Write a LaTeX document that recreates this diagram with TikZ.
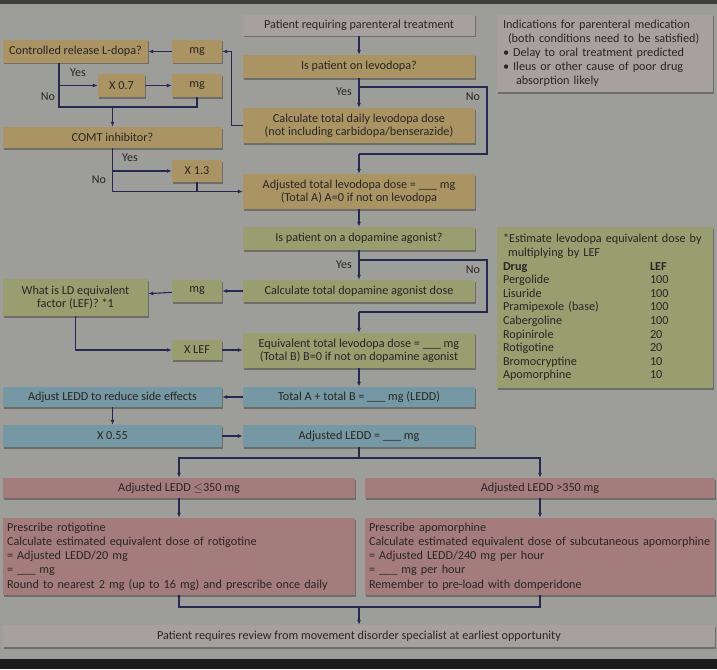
\documentclass[tikz,border=0pt]{standalone}
\usepackage{fontspec}
\setmainfont{Carlito}
\usetikzlibrary{shadows,arrows.meta}
\definecolor{bg}{RGB}{157,157,153}
\definecolor{greybox}{RGB}{166,160,158}
\definecolor{tanbox}{RGB}{170,148,100}
\definecolor{greenbox}{RGB}{152,158,112}
\definecolor{bluebox}{RGB}{118,152,164}
\definecolor{pinkbox}{RGB}{165,124,124}
\definecolor{ln}{RGB}{38,40,82}
\definecolor{txt}{RGB}{40,38,36}
\definecolor{topband}{RGB}{62,62,62}
\definecolor{botband}{RGB}{28,28,28}
\newcommand\fsa{\fontsize{12.2}{13}\selectfont}
\newcommand\fsb{\fontsize{12}{13}\selectfont}
\begin{document}
\begin{tikzpicture}[x=1pt,y=-1pt,
  box/.style={fill=#1, text=txt, inner sep=1pt, align=center, font=\fsa,
    drop shadow={shadow xshift=1.2pt,shadow yshift=-1.5pt,fill=black,opacity=0.3}},
  lbl/.style={text=txt, font=\fsb, inner sep=0pt},
  conn/.style={draw=ln, line width=1.1pt},
  arr/.style={conn, -{Latex[length=5pt,width=4pt]}}
]
\path[use as bounding box, fill=bg] (0,0) rectangle (717,669);
\fill[topband] (0,0) rectangle (717,4);
\fill[botband] (0,659) rectangle (717,669);

% main column
\node[box=greybox, minimum width=232pt, minimum height=21pt] (pat) at (359,25.5) {Patient requiring parenteral treatment};
\node[box=tanbox, minimum width=232pt, minimum height=23pt] (lev) at (359,66.5) {Is patient on levodopa?};
\node[box=tanbox, minimum width=232pt, minimum height=35pt] (calc) at (359,125.5) {Calculate total daily levodopa dose\\(not including carbidopa/benserazide)};
\node[box=tanbox, minimum width=232pt, minimum height=35pt] (adjA) at (359,191.5) {Adjusted total levodopa dose = \_\_\_ mg\\(Total A) A=0 if not on levodopa};
\node[box=greenbox, minimum width=232pt, minimum height=23pt] (ago) at (359,238.5) {Is patient on a dopamine agonist?};
\node[box=greenbox, minimum width=232pt, minimum height=22pt] (calcB) at (359,291) {Calculate total dopamine agonist dose};
\node[box=greenbox, minimum width=232pt, minimum height=35pt] (eqB) at (359,350.5) {Equivalent total levodopa dose = \_\_\_ mg\\(Total B) B=0 if not on dopamine agonist};
\node[box=bluebox, minimum width=232pt, minimum height=20pt] (tot) at (359,397) {Total A + total B = \_\_\_ mg (LEDD)};
\node[box=bluebox, minimum width=232pt, minimum height=22pt] (adjL) at (359,436) {Adjusted LEDD = \_\_\_ mg};

% left column
\node[box=tanbox, minimum width=145pt, minimum height=23pt] (cr) at (75.5,51.5) {Controlled release L-dopa?};
\node[box=tanbox, minimum width=50pt, minimum height=23pt] (mga) at (197,51.5) {mg};
\node[box=tanbox, minimum width=47pt, minimum height=23pt] (xa) at (121.5,85.5) {X 0.7};
\node[box=tanbox, minimum width=50pt, minimum height=23pt] (mgb) at (197,85.5) {mg};
\node[box=tanbox, minimum width=219pt, minimum height=21pt] (comt) at (112.5,137.5) {COMT inhibitor?};
\node[box=tanbox, minimum width=50pt, minimum height=22pt] (xb) at (197,171) {X 1.3};
\node[box=greenbox, minimum width=145pt, minimum height=37pt] (lef) at (75.5,297.5) {What is LD equivalent\\factor (LEF)? *1};
\node[box=greenbox, minimum width=50pt, minimum height=22pt] (mgc) at (197,291) {mg};
\node[box=greenbox, minimum width=50pt, minimum height=20pt] (xlef) at (197,350) {X LEF};
\node[box=bluebox, minimum width=219pt, minimum height=20pt] (adjse) at (112.5,397) {Adjust LEDD to reduce side effects};
\node[box=bluebox, minimum width=219pt, minimum height=22pt] (xc) at (112.5,436) {X 0.55};

% bottom
\node[box=pinkbox, minimum width=352pt, minimum height=20pt] (le) at (179,488) {Adjusted LEDD $\leq$350 mg};
\node[box=pinkbox, minimum width=350pt, minimum height=20pt] (gt) at (540,488) {Adjusted LEDD >350 mg};
\node[box=pinkbox, minimum height=77pt, text width=344pt, align=left, inner xsep=4pt, font=\fontsize{12.2}{14.2}\selectfont] (roti) at (179,556.5) {Prescribe rotigotine\\Calculate estimated equivalent dose of rotigotine\\= Adjusted LEDD/20 mg\\= \_\_\_ mg\\Round to nearest 2 mg (up to 16 mg) and prescribe once daily};
\node[box=pinkbox, minimum height=77pt, text width=342pt, align=left, inner xsep=4pt, font=\fontsize{12.2}{14.2}\selectfont] (apo) at (540,556.5) {Prescribe apomorphine\\Calculate estimated equivalent dose of subcutaneous apomorphine\\= Adjusted LEDD/240 mg per hour\\= \_\_\_ mg per hour\\Remember to pre-load with domperidone};
\node[box=greybox, minimum width=712pt, minimum height=22pt] (rev) at (359,636) {Patient requires review from movement disorder specialist at earliest opportunity};

% right info boxes
\node[box=greybox, minimum height=77pt, text width=204pt, align=left, inner xsep=6pt, font=\fontsize{12.2}{14}\selectfont] (ind) at (605,53.5) {Indications for parenteral medication\\\hspace*{5pt}(both conditions need to be satisfied)\\• Delay to oral treatment predicted\\• Ileus or other cause of poor drug\\\hspace*{13pt}absorption likely};
\node[box=greenbox, minimum height=161pt, text width=204pt, align=left, inner xsep=6pt, font=\fontsize{12.2}{13.6}\selectfont] (tab) at (605,307.5) {*Estimate levodopa equivalent dose by\\\hspace*{5pt}multiplying by LEF\\\makebox[147pt][l]{\textbf{Drug}}\textbf{LEF}\\\makebox[147pt][l]{Pergolide}100\\\makebox[147pt][l]{Lisuride}100\\\makebox[147pt][l]{Pramipexole (base)}100\\\makebox[147pt][l]{Cabergoline}100\\\makebox[147pt][l]{Ropinirole}20\\\makebox[147pt][l]{Rotigotine}20\\\makebox[147pt][l]{Bromocryptine}10\\\makebox[147pt][l]{Apomorphine}10};

% junction coordinates
\coordinate (j1) at (359,87);
\coordinate (j1r) at (487,87);
\coordinate (j2r) at (487,154);
\coordinate (j2) at (359,154);
\coordinate (j3) at (359,260);
\coordinate (j3r) at (487,260);
\coordinate (j4r) at (487,312);
\coordinate (j4) at (359,312);
\coordinate (ca) at (59,63);
\coordinate (cb) at (59,85.5);
\coordinate (cc) at (59,107);
\coordinate (js) at (359,458);
\coordinate (je) at (359,607);

% connectors main column
\draw[arr] (pat) -- (lev);
\draw[arr] (lev) -- (calc);
\draw[conn] (j1) -- (j1r) -- (j2r) -- (j2);
\draw[arr] (j2) -- (adjA);
\draw[arr] (adjA) -- (ago);
\draw[arr] (ago) -- (calcB);
\draw[conn] (j3) -- (j3r) -- (j4r) -- (j4);
\draw[arr] (j4) -- (eqB);
\draw[arr] (eqB) -- (tot);

% levodopa side branch
\draw[arr] (calc.west) -- ++(-11,0) |- (mga.east);
\draw[arr] (mga) -- (cr);
\draw[conn] (ca) -- (cc) -| (mgb.south);
\draw[arr] (cb) -- (xa.west);
\draw[arr] (xa) -- (mgb);
\draw[arr] (comt.north |- cc) -- (comt.north);
\draw[arr] (comt.south) |- (adjA.west);
\draw[arr] (comt.south |- xb.west) -- (xb.west);
\draw[conn] (xb.south) -- (xb.south |- adjA.west);

% agonist side branch
\draw[arr] (calcB) -- (mgc);
\draw[arr] (mgc) -- (lef);
\draw[arr] (lef.south) |- (xlef.west);
\draw[arr] (xlef.east) -- (xlef.east -| eqB.west);

% LEDD adjust
\draw[arr] (tot) -- (adjse);
\draw[arr] (adjse) -- (xc);
\draw[arr] (xc) -- (adjL);
\draw[conn] (adjL) -- (js);
\draw[arr] (js) -| (le.north);
\draw[arr] (js) -| (gt.north);
\draw[arr] (le) -- (roti);
\draw[arr] (gt) -- (apo);
\draw[conn] (roti.south) |- (je);
\draw[conn] (apo.south) |- (je);
\draw[arr] (je) -- (rev);

% labels
\node[lbl] (y1) at (344,92) {Yes};
\node[lbl] (n1) at (473,97) {No};
\node[lbl] (y2) at (344,265) {Yes};
\node[lbl] (n2) at (473,270) {No};
\node[lbl] (y3) at (78,73) {Yes};
\node[lbl] (n3) at (48,97) {No};
\node[lbl] (y4) at (130,158) {Yes};
\node[lbl] (n4) at (99,180) {No};
\end{tikzpicture}
\end{document}
